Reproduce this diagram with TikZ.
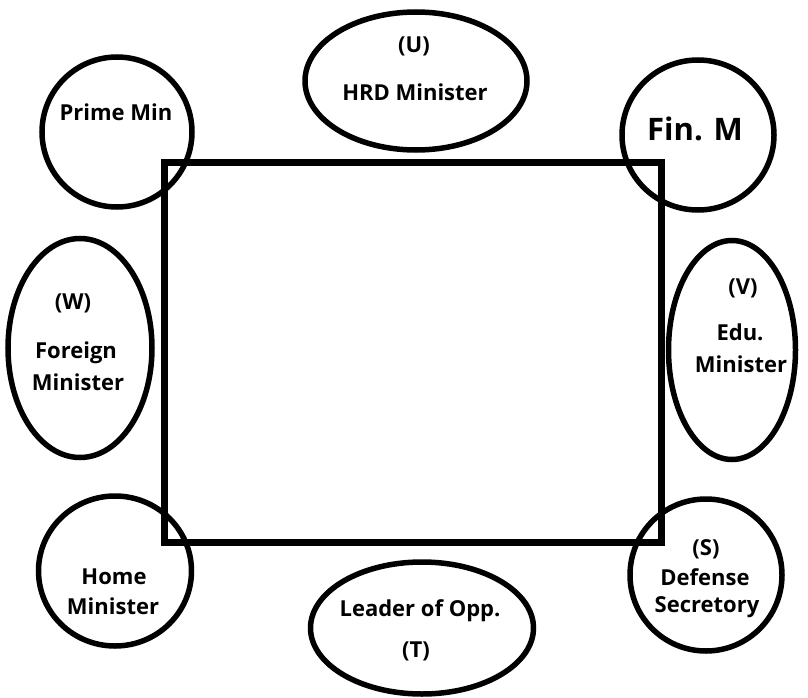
\documentclass[tikz,border=0pt]{standalone}
\usepackage{fontspec}
\setmainfont{Open Sans}
\usetikzlibrary{shapes.geometric}
\begin{document}
\begin{tikzpicture}[x=1pt,y=-1pt,
  seat/.style={draw=black,line width=5.5pt,ellipse,inner sep=0pt},
  lbl/.style={font=\fontsize{22}{24}\selectfont\bfseries,align=center,inner sep=0pt},
  table/.style={draw=black,line width=7pt}]
\useasboundingbox (0,0) rectangle (808,698);
\node[table,minimum width=497pt,minimum height=380pt,inner sep=0pt] (tbl) at (413,352) {};
\node[seat,minimum width=150pt,minimum height=150pt] (pm) at (117,132) {};
\node[seat,minimum width=222pt,minimum height=138pt] (hrd) at (416,81) {};
\node[seat,minimum width=152pt,minimum height=150pt] (fin) at (698,135) {};
\node[seat,minimum width=144pt,minimum height=219pt] (fm) at (80,348) {};
\node[seat,minimum width=127pt,minimum height=219pt] (edu) at (732,350) {};
\node[seat,minimum width=153pt,minimum height=150pt] (home) at (115,571) {};
\node[seat,minimum width=223pt,minimum height=132pt] (lop) at (422,628) {};
\node[seat,minimum width=152pt,minimum height=152pt] (def) at (706,575) {};
\node[lbl] (tpm) at (116,112) {Prime Min};
\node[lbl] (thu) at (414,46) {(U)};
\node[lbl] (thrd) at (415,92) {HRD Minister};
\node[lbl,font=\fontsize{31}{34}\selectfont\bfseries] (tfin) at (695,129) {Fin. M};
\node[lbl] (tw) at (73,303) {(W)};
\node[lbl] (tfm) at (76,353) {Foreign};
\node[lbl] (tfm2) at (78,382) {Minister};
\node[lbl] (tv) at (743,288) {(V)};
\node[lbl] (tedu) at (740,332) {Edu.};
\node[lbl] (tedu2) at (741,364) {Minister};
\node[lbl] (thome) at (114,577) {Home};
\node[lbl] (thome2) at (113,606) {Minister};
\node[lbl] (tlop) at (420,611) {Leader of Opp.};
\node[lbl] (tt) at (416,651) {(T)};
\node[lbl] (ts) at (706,549) {(S)};
\node[lbl] (tdef) at (705,577) {Defense};
\node[lbl] (tdef2) at (707,607) {Secretory};
\end{tikzpicture}
\end{document}
